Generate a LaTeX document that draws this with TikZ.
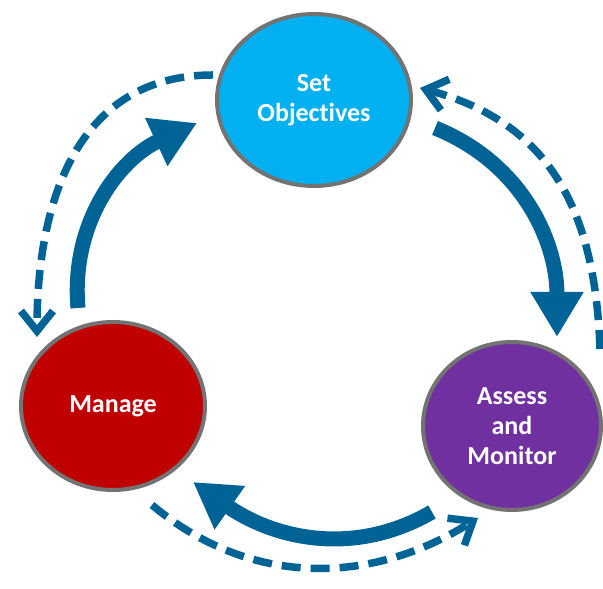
\documentclass[tikz,border=0pt]{standalone}
\usepackage{fontspec}
\setmainfont{Carlito}[Ligatures=NoCommon]
\usetikzlibrary{shapes.geometric,arrows.meta}
\definecolor{setblue}{RGB}{0,176,240}
\definecolor{manred}{RGB}{192,0,0}
\definecolor{asmpurple}{RGB}{112,48,160}
\definecolor{ringgray}{RGB}{115,115,115}
\definecolor{arrowblue}{RGB}{0,99,150}

\begin{document}
\begin{tikzpicture}[x=1pt,y=1pt,
    stage/.style={ellipse,draw=ringgray,line width=4pt,inner sep=0pt,
      text=white,align=center,font=\fontsize{26}{30}\selectfont\bfseries},
    flow/.style={draw=arrowblue,line width=15pt,-{Triangle[width=50pt,length=45pt]}},
    back/.style={draw=arrowblue,line width=7.5pt,dash pattern=on 19pt off 10pt,
      -{Straight Barb[width=32pt,length=20pt]}}]
  \useasboundingbox (0,0) rectangle (603,589);

  % the three stages
  \node[stage,fill=setblue,minimum width=194pt,minimum height=172pt] (set) at (314,489) {Set\\Objectives};
  \node[stage,fill=manred,minimum width=184pt,minimum height=168pt] (man) at (113,183) {Manage};
  \node[stage,fill=asmpurple,minimum width=178pt,minimum height=168pt] (asm) at (512,163) {Assess\\and\\Monitor};

  % ends of the arrows
  \coordinate (manup) at (78,281);
  \coordinate (setin) at (197,466);
  \coordinate (setout) at (435,461);
  \coordinate (asmin) at (557,252);
  \coordinate (asmout) at (432,77);
  \coordinate (manin) at (193,107);
  \coordinate (setleft) at (213,514);
  \coordinate (mantop) at (37,252);
  \coordinate (asmright) at (600,240);
  \coordinate (setright) at (420,501);
  \coordinate (manlow) at (152,84);
  \coordinate (asmlow) at (478,71);

  % forward cycle
  \draw[flow] (manup) to[out=95,in=205] (setin);
  \draw[flow] (setout) to[out=-22,in=90] (asmin);
  \draw[flow] (asmout) to[out=210,in=-35] (manin);

  % feedback
  \draw[back] (setleft) to[out=180,in=90,looseness=1.1] (mantop);
  \draw[back] (asmright) to[out=92,in=-15,looseness=1.1] (setright);
  \draw[back] (manlow) to[out=-40,in=212] (asmlow);
\end{tikzpicture}
\end{document}
